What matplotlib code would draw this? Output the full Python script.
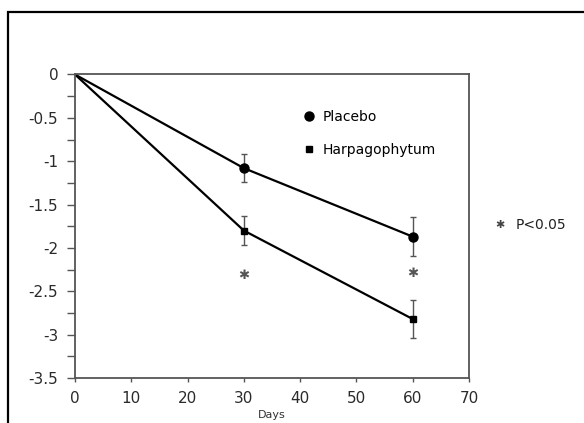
import matplotlib.pyplot as plt
import matplotlib.patches as patches
from matplotlib.lines import Line2D
from matplotlib.ticker import MultipleLocator

plt.rcParams['font.family'] = ['DejaVu Sans']

# data
days = [0, 30, 60]
placebo = [0, -1.08, -1.87]
placebo_err = [0, 0.16, 0.225]
harpago = [0, -1.8, -2.82]
harpago_err = [0, 0.17, 0.22]
star_days = [30, 60]
star_y = [-2.32, -2.29]

fig = plt.figure(figsize=(5.84, 4.23), dpi=100)
ax = fig.add_axes([75 / 584, 1 - 378 / 423, (469 - 75) / 584, (378 - 74.5) / 423])

# black frame around the figure (cut off on the right and bottom)
frame = patches.Rectangle((7.5 / 584, -0.2), 1.2, 1 - 12 / 423 + 0.2,
                          transform=fig.transFigure, fill=False,
                          edgecolor='black', linewidth=1.6)
fig.patches.append(frame)

ax.errorbar(days[1:], placebo[1:], yerr=placebo_err[1:], fmt='none',
            ecolor='#555555', elinewidth=1, capsize=2, capthick=1)
ax.errorbar(days[1:], harpago[1:], yerr=harpago_err[1:], fmt='none',
            ecolor='#555555', elinewidth=1, capsize=2, capthick=1)
ax.plot(days, placebo, color='black', linewidth=1.6)
ax.plot(days[1:], placebo[1:], 'o', color='black', markersize=6.5)
ax.plot(days, harpago, color='black', linewidth=1.6)
ax.plot(days[1:], harpago[1:], 's', color='black', markersize=4.8)

for d, y in zip(star_days, star_y):
    ax.text(d, y, '✱', ha='center', va='center', fontsize=9.5, color='#555555')

ax.text(75.5, -1.74, '✱', ha='center', va='center', fontsize=8,
        color='#444444', clip_on=False)
ax.text(78.3, -1.74, 'P<0.05', ha='left', va='center', fontsize=10,
        color='#222222', clip_on=False)

handles = [Line2D([], [], marker='o', color='black', linestyle='none', markersize=6.5),
           Line2D([], [], marker='s', color='black', linestyle='none', markersize=4.5)]
ax.legend(handles, ['Placebo', 'Harpagophytum'], frameon=False, fontsize=10,
          loc='upper left', bbox_to_anchor=(0.541, 0.925), handletextpad=0.4,
          labelspacing=1.35, handlelength=1.2, borderpad=0.4)

ax.set_xlim(0, 70)
ax.set_ylim(-3.5, 0)
ax.xaxis.set_major_locator(MultipleLocator(10))
ax.yaxis.set_major_locator(MultipleLocator(0.5))
ax.yaxis.set_minor_locator(MultipleLocator(0.25))
ax.set_yticklabels([f'{v:g}' for v in ax.get_yticks()])
ax.tick_params(axis='both', which='both', direction='out', width=1,
               color='#555555', labelsize=11, labelcolor='#2a2a2a')
ax.tick_params(axis='y', which='both', length=6, pad=6)
ax.tick_params(axis='x', length=3, pad=6)
for s in ax.spines.values():
    s.set_color('#555555')
    s.set_linewidth(1.3)

ax.set_xlabel('Days', fontsize=8, labelpad=3, color='#333333')

plt.savefig('out.png', dpi=100)
